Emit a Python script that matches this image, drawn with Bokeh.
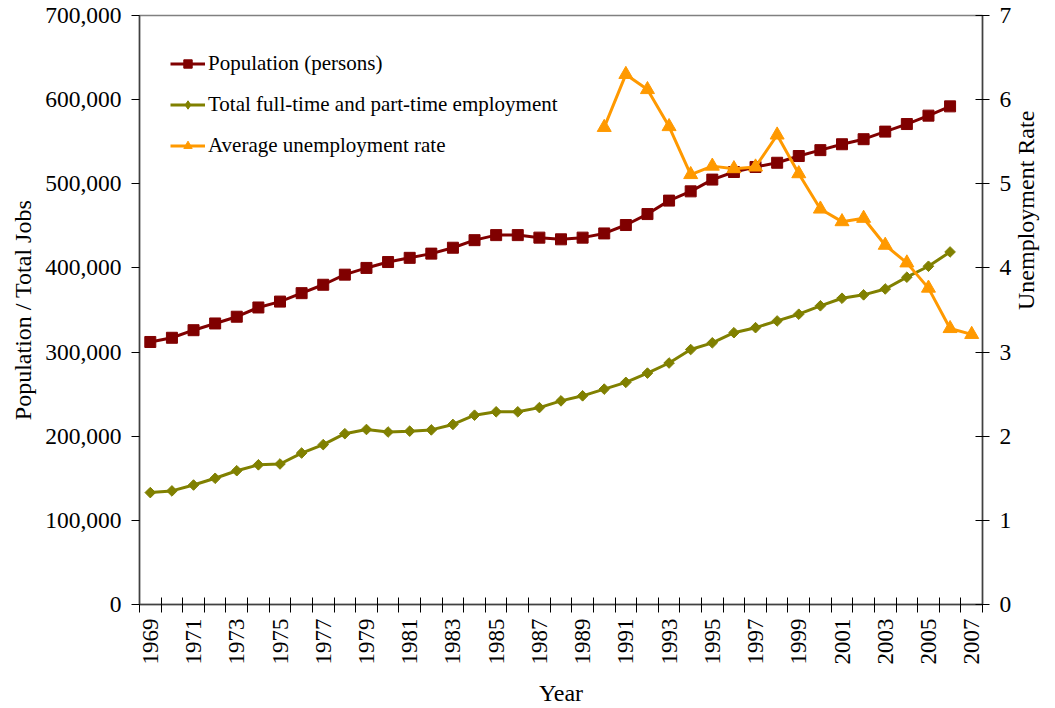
import math
from bokeh.plotting import figure
from bokeh.models import (Range1d, LinearAxis, FixedTicker, NumeralTickFormatter,
                          Legend, LegendItem)
from bokeh.embed import file_html
from bokeh.resources import INLINE

# ---------------- data ----------------
years = list(range(1969, 2008))
x_label_years = list(range(1969, 2008, 2))

pop_years = list(range(1969, 2007))
population = [312000, 317000, 326000, 334000, 342000, 353000, 360000, 370000, 380000, 392000,
              400000, 407000, 412000, 417000, 424000, 433000, 439000, 439000, 436000, 434000,
              436000, 441000, 451000, 464000, 480000, 491000, 505000, 514000, 520000, 525000,
              533000, 540000, 547000, 553000, 562000, 571000, 581000, 592000]

emp_years = list(range(1969, 2007))
employment = [133000, 135000, 142000, 150000, 159000, 166000, 167000, 180000, 190000, 203000,
              208000, 205000, 206000, 207500, 214000, 225000, 229000, 229000, 234000, 242000,
              248000, 256000, 264000, 275000, 287000, 303000, 311000, 323000, 329000, 337000,
              345000, 355000, 364000, 368000, 375000, 389000, 402000, 419000]

rate_years = list(range(1990, 2008))
unemployment_rate = [5.67, 6.30, 6.12, 5.68, 5.11, 5.21, 5.18, 5.20, 5.58, 5.12,
                     4.70, 4.55, 4.59, 4.27, 4.06, 3.76, 3.28, 3.21]

left_ticks = [0, 100000, 200000, 300000, 400000, 500000, 600000, 700000]
right_ticks = [0, 1, 2, 3, 4, 5, 6, 7]

labels = ["Population (persons)",
          "Total full-time and part-time employment",
          "Average unemployment rate"]
colors = ["#800000", "#808000", "#FF9900"]

FONT = "Liberation Serif"

# ---------------- figure ----------------
p = figure(width=1055, height=708, output_backend="svg", toolbar_location=None,
           x_range=Range1d(years[0] - 0.5, years[-1] + 0.5),
           y_range=Range1d(left_ticks[0], left_ticks[-1]),
           min_border_left=139, min_border_right=72, min_border_top=15, min_border_bottom=104)
p.extra_y_ranges = {"rate": Range1d(right_ticks[0], right_ticks[-1])}

p.xgrid.visible = False
p.ygrid.visible = False
p.outline_line_color = "#808080"
p.outline_line_width = 1.5
p.background_fill_color = "white"
p.border_fill_color = "white"

# x axis
xa = p.xaxis[0]
xa.ticker = FixedTicker(ticks=x_label_years,
                        minor_ticks=[y - 0.5 for y in years] + [years[-1] + 0.5])
xa.major_tick_in = 0
xa.major_tick_out = 0
xa.minor_tick_in = 7
xa.minor_tick_out = 8
xa.minor_tick_line_color = "black"
xa.minor_tick_line_width = 1
xa.major_label_orientation = math.pi / 2
xa.major_label_standoff = 6
xa.axis_label = "Year"
xa.axis_label_standoff = 12

# left axis
ya = p.yaxis[0]
ya.ticker = FixedTicker(ticks=left_ticks)
ya.formatter = NumeralTickFormatter(format="0,0")
ya.major_tick_in = 0
ya.major_tick_out = 8
ya.minor_tick_in = 0
ya.minor_tick_out = 0
ya.major_label_standoff = 10
ya.axis_label = "Population / Total Jobs"
ya.axis_label_standoff = 6

# right axis
ra = LinearAxis(y_range_name="rate", ticker=FixedTicker(ticks=right_ticks))
ra.major_tick_in = 7
ra.major_tick_out = 7
ra.minor_tick_in = 0
ra.minor_tick_out = 0
ra.major_label_standoff = 10
ra.axis_label = "Unemployment Rate"
ra.axis_label_standoff = 12
ra.axis_label_orientation = math.pi / 2
p.add_layout(ra, "right")

for ax, tfs in [(xa, "23px"), (ya, "23.5px"), (ra, "23.5px")]:
    ax.axis_line_color = "#404040"
    ax.axis_line_width = 1.5
    ax.major_tick_line_color = "black"
    ax.major_label_text_font = FONT
    ax.major_label_text_font_size = tfs
    ax.major_label_text_color = "black"
    ax.axis_label_text_font = FONT
    ax.axis_label_text_font_size = "24px"
    ax.axis_label_text_font_style = "normal"
    ax.axis_label_text_color = "black"

# ---------------- series ----------------
l1 = p.line(pop_years, population, line_color=colors[0], line_width=3)
s1 = p.scatter(pop_years, population, marker="square", size=11,
               fill_color=colors[0], line_color=colors[0])

l2 = p.line(emp_years, employment, line_color=colors[1], line_width=3)
s2 = p.scatter(emp_years, employment, marker="square", angle=math.pi / 4, size=7.5,
               fill_color=colors[1], line_color=colors[1])
# legend-only key marker (diamond shape, a single empty NaN point)
s2_key = p.scatter(x=[float("nan")], y=[float("nan")], marker="diamond", size=10,
                   fill_color=colors[1], line_color=colors[1])

l3 = p.line(rate_years, unemployment_rate, line_color=colors[2], line_width=3,
            y_range_name="rate")
s3 = p.scatter(rate_years, unemployment_rate, marker="triangle", size=14,
               fill_color=colors[2], line_color=colors[2], y_range_name="rate")

legend = Legend(items=[LegendItem(label=labels[0], renderers=[l1, s1]),
                       LegendItem(label=labels[1], renderers=[l2, s2_key]),
                       LegendItem(label=labels[2], renderers=[l3, s3])],
                location=(31, 446), padding=0, margin=0,
                glyph_width=35, glyph_height=21, label_height=21, spacing=16,
                label_standoff=3, border_line_color=None, background_fill_alpha=0,
                label_text_font=FONT, label_text_font_size="21px", label_text_color="black")
p.add_layout(legend)

open("out.html", "w").write(file_html(p, INLINE))
